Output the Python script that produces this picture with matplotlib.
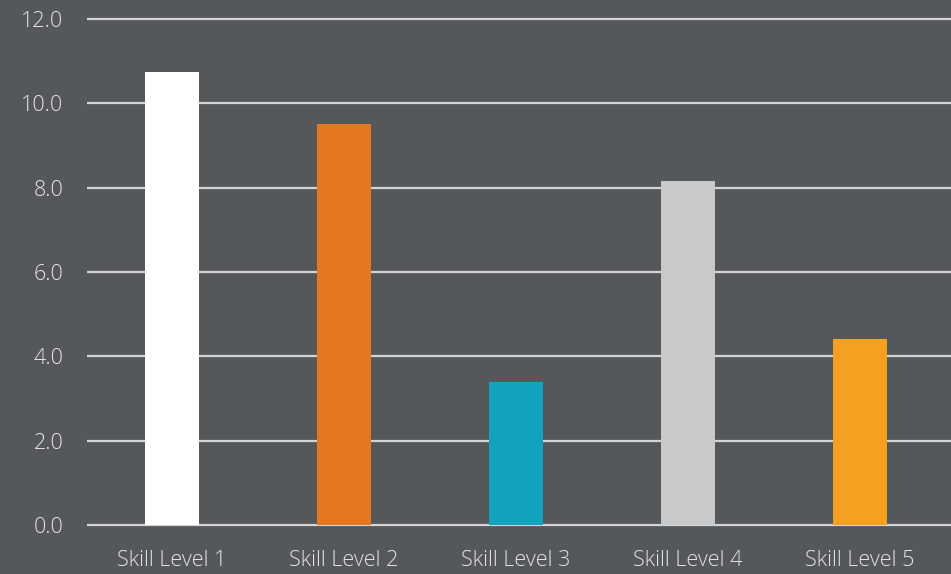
import matplotlib.pyplot as plt

categories = ["Skill Level 1", "Skill Level 2", "Skill Level 3", "Skill Level 4", "Skill Level 5"]
values = [10.75, 9.5, 3.4, 8.15, 4.4]
colors = ["#ffffff", "#e67722", "#14a3bf", "#c8c9c8", "#f5a020"]
yticks = [0, 2, 4, 6, 8, 10, 12]

bg = "#54585b"
plt.rcParams["font.family"] = ["Open Sans", "DejaVu Sans"]

fig = plt.figure(figsize=(9.51, 5.74), dpi=100, facecolor=bg)
unit = 506 / 12  # pixels per unit
bottom_px = 574 - 525 - 0.1 * unit
ax = fig.add_axes([87 / 951, bottom_px / 574, 1 - 87 / 951, 1 - bottom_px / 574])
ax.set_facecolor(bg)

ax.bar(range(len(categories)), values, width=0.314, color=colors, zorder=3)

ax.set_xlim(-0.494, -0.494 + 864 / 172)
ax.set_ylim(-0.1, 525 / unit)
ax.set_yticks(yticks)
ax.set_yticklabels([f"{v:.1f}" for v in yticks])
ax.set_xticks(range(len(categories)))
ax.set_xticklabels(categories)

ax.grid(axis="y", color="#d4d4d4", linewidth=1.6, zorder=1)
for s in ax.spines.values():
    s.set_visible(False)
ax.tick_params(axis="both", length=0, colors="#e4e4e4", labelsize=15.5)
ax.tick_params(axis="x", pad=15)
ax.tick_params(axis="y", pad=17)
for lbl in ax.get_xticklabels() + ax.get_yticklabels():
    lbl.set_fontweight("light")

fig.savefig("out.png", dpi=100, facecolor=bg)
